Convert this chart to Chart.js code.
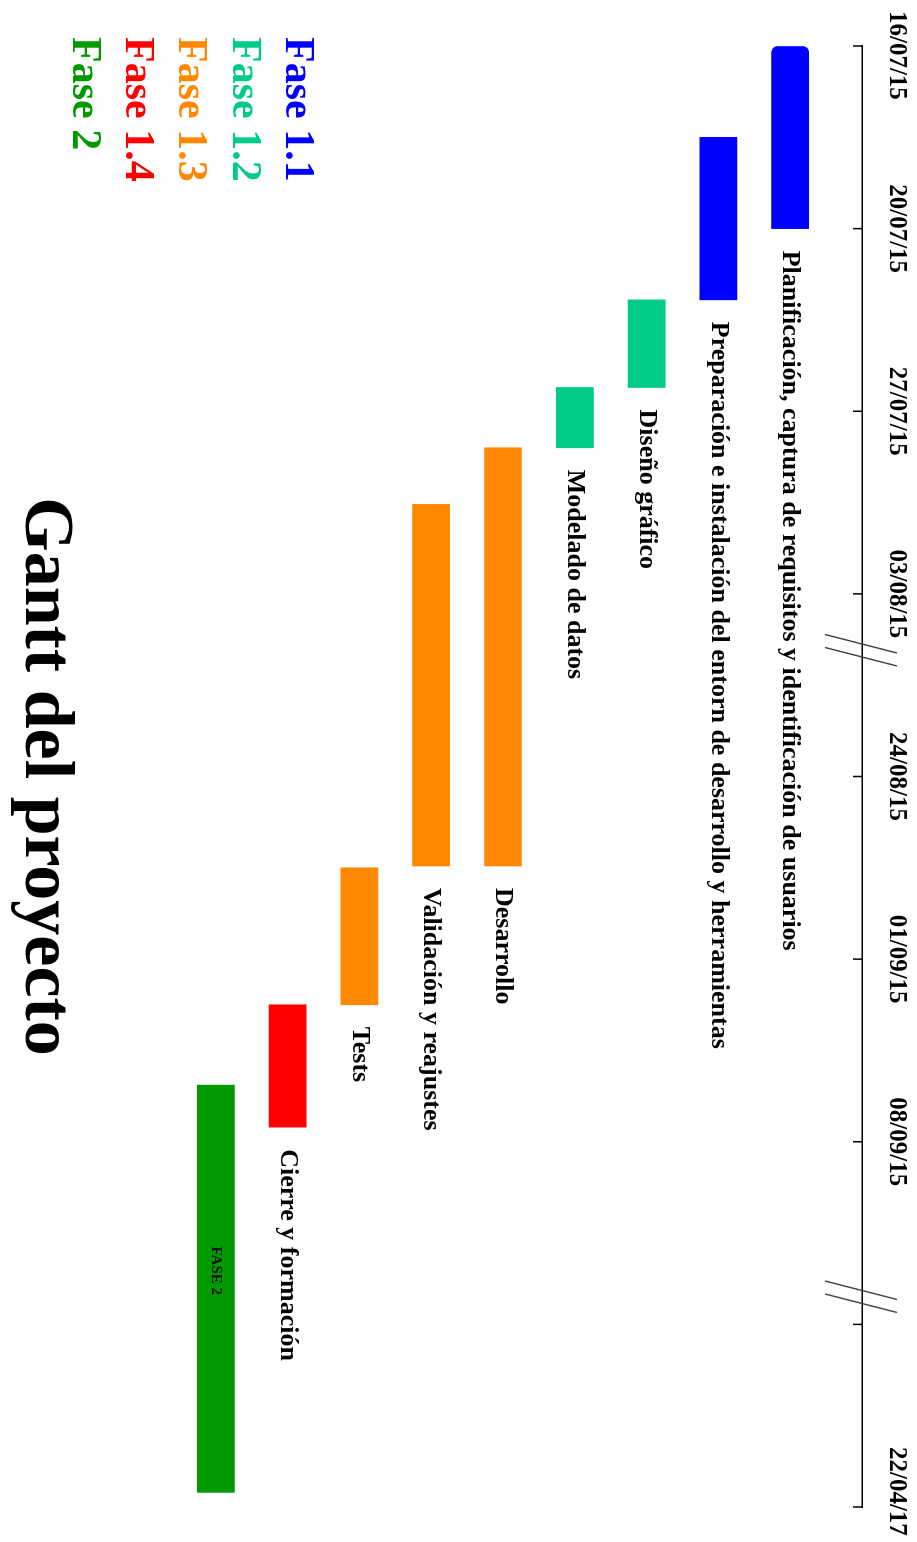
<!DOCTYPE html>
<html>
<head>
<meta charset="utf-8">
<script src="https://cdn.jsdelivr.net/npm/chart.js@4.4.1/dist/chart.umd.min.js"></script>
<style>
  html, body { margin: 0; padding: 0; background: #fff; width: 917px; height: 1542px; overflow: hidden; }
  /* chart is drawn landscape and turned a quarter clockwise, like the original scan */
  #wrap { position: absolute; left: 917px; top: 0; width: 1542px; height: 917px; transform-origin: 0 0; transform: rotate(90deg); }
</style>
</head>
<body>
<div id="wrap"><canvas id="gantt" width="1542" height="917"></canvas></div>
<script>
const FONT = '"Liberation Serif", "Times New Roman", serif';

// time axis is broken, so positions are in tick steps (0 = first date)
const tickLabels = ['16/07/15', '20/07/15', '27/07/15', '03/08/15', '24/08/15', '01/09/15', '08/09/15', '', '22/04/17'];
const axisBreaks = [3.31, 6.85];

const tasks = [
  'Planificación, captura de requisitos y identificación de usuarios',
  'Preparación e instalación del entorn de desarrollo y herramientas',
  'Diseño gráfico',
  'Modelado de datos',
  'Desarrollo',
  'Validación y reajustes',
  'Tests',
  'Cierre y formación',
  ''
];
const taskStart = [0, 0.5, 1.39, 1.87, 2.2, 2.51, 4.5, 5.25, 5.69];
const taskEnd   = [1, 1.39, 1.87, 2.2, 4.49, 4.49, 5.25, 5.92, 7.92];
const taskPhase = [0, 0, 1, 1, 2, 2, 2, 3, 4];

const phases = ['Fase 1.1', 'Fase 1.2', 'Fase 1.3', 'Fase 1.4', 'Fase 2'];
const phaseColors = ['#0000ff', '#00cc88', '#ff8800', '#ff0000', '#009900'];
const innerBarText = { 8: 'FASE 2' };

const ganttExtras = {
  id: 'ganttExtras',
  afterDatasetsDraw(chart) {
    const c = chart.ctx;
    const meta = chart.getDatasetMeta(0);
    c.save();
    c.textBaseline = 'middle';
    meta.data.forEach((bar, i) => {
      if (tasks[i]) {
        c.font = 'bold 26px ' + FONT;
        c.textAlign = 'left';
        c.fillStyle = '#000';
        c.fillText(tasks[i], bar.x + 22, bar.y);
      }
      if (innerBarText[i]) {
        c.font = 'bold 15px ' + FONT;
        c.textAlign = 'center';
        c.fillStyle = '#111';
        c.fillText(innerBarText[i], (bar.x + bar.base) / 2 - 18, bar.y);
      }
    });
    c.restore();
  },
  afterDraw(chart) {
    const c = chart.ctx;
    const xs = chart.scales.x;
    const top = chart.chartArea.top;
    c.save();
    // short tick marks pointing into the plot
    c.strokeStyle = '#000';
    c.lineWidth = 1.5;
    xs.ticks.forEach((t, i) => {
      const px = xs.getPixelForTick(i);
      c.beginPath();
      c.moveTo(px, top);
      c.lineTo(px, top + 9);
      c.stroke();
    });
    // axis break marks  //
    c.strokeStyle = '#444';
    c.lineWidth = 1.4;
    axisBreaks.forEach(b => {
      const px = xs.getPixelForValue(b);
      [-6.5, 6.5].forEach(off => {
        c.beginPath();
        c.moveTo(px + off - 9.5, top + 37);
        c.lineTo(px + off + 9, top - 35);
        c.stroke();
      });
    });
    // phase legend, bottom left
    c.font = 'bold 42px ' + FONT;
    c.textAlign = 'left';
    c.textBaseline = 'alphabetic';
    phases.forEach((p, i) => {
      c.fillStyle = phaseColors[i];
      c.fillText(p, 37, 631 + i * 53.3);
    });
    c.restore();
  }
};

new Chart(document.getElementById('gantt').getContext('2d'), {
  type: 'bar',
  data: {
    datasets: [{
      data: tasks.map((t, i) => ({ x: [taskStart[i], taskEnd[i]], y: i })),
      backgroundColor: taskPhase.map(p => phaseColors[p]),
      barThickness: 37,
      borderSkipped: false,
      borderRadius: ctx => ctx.dataIndex === 0 ? { topLeft: 6, bottomLeft: 6, topRight: 0, bottomRight: 0 } : 0
    }]
  },
  options: {
    indexAxis: 'y',
    responsive: false,
    animation: false,
    layout: { padding: { left: 46, right: 35, top: 0, bottom: 0 } },
    scales: {
      x: {
        type: 'linear',
        position: 'top',
        min: 0,
        max: 8,
        grid: { drawOnChartArea: false, drawTicks: false },
        border: { color: '#000', width: 1.5 },
        ticks: {
          stepSize: 1,
          autoSkip: false,
          minRotation: 0,
          maxRotation: 0,
          padding: 19,
          color: '#000',
          font: { family: FONT, size: 25, weight: 'bold' },
          // first/last label nudged inwards with spaces, as in the original
          callback: (v) => {
            const s = tickLabels[v] ?? '';
            if (v === 0) return '   ' + s;
            if (v === tickLabels.length - 1) return s + '     ';
            return s;
          }
        },
        afterFit: s => { s.height = 55; s.paddingLeft = 0; s.paddingRight = 0; }
      },
      y: { type: 'linear', reverse: true, offset: false, min: -1, max: 9, display: false }
    },
    plugins: {
      legend: { display: false },
      tooltip: { enabled: false },
      title: {
        display: true,
        position: 'bottom',
        text: 'Gantt del proyecto',
        color: '#000',
        font: { family: FONT, size: 70, weight: 'bold' },
        padding: { top: 58, bottom: 2 }
      }
    }
  },
  plugins: [ganttExtras]
});
</script>
</body>
</html>
